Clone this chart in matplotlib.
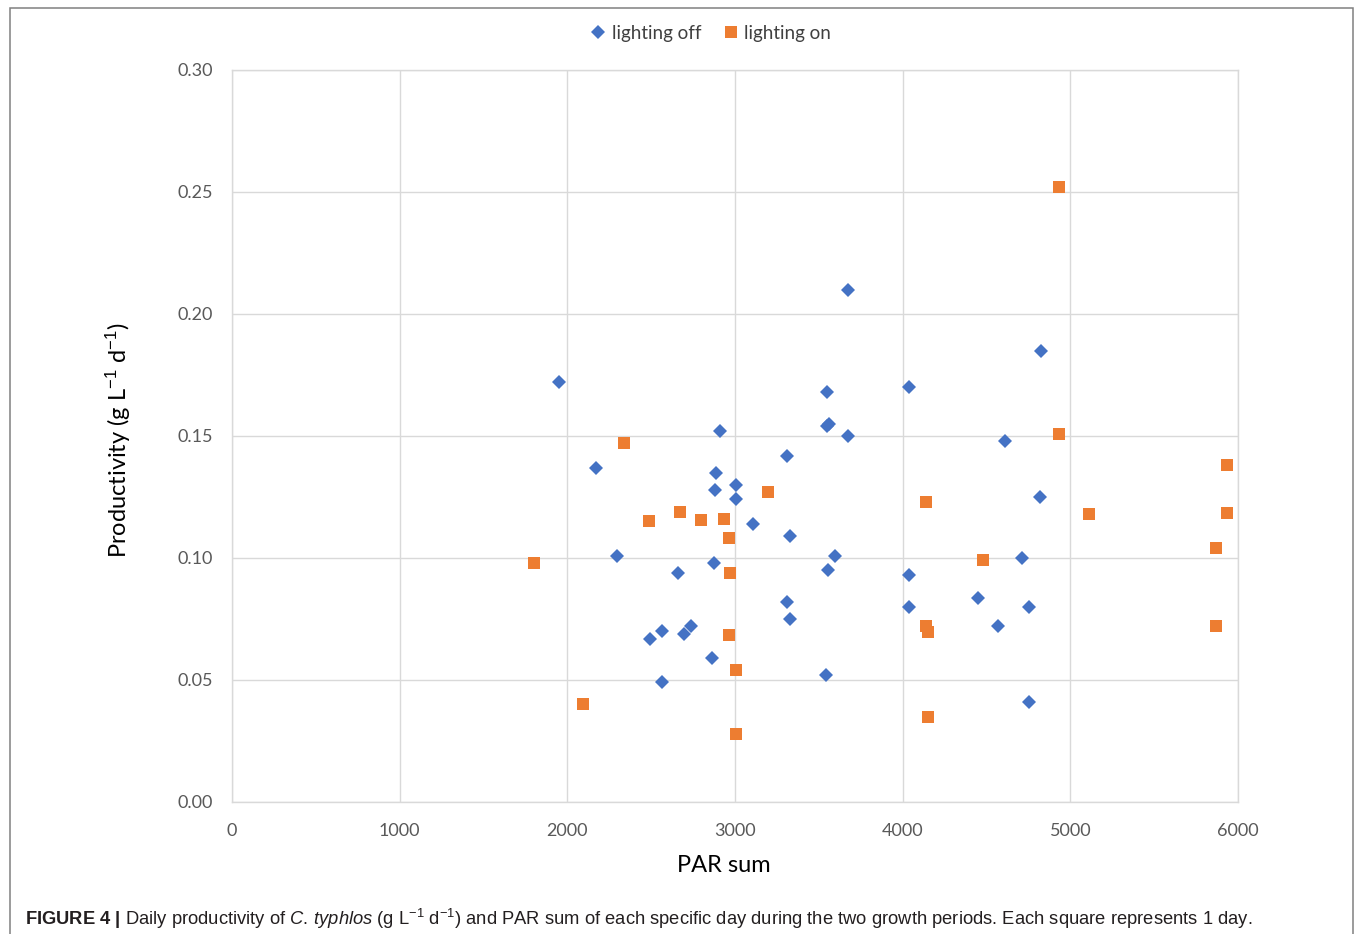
import matplotlib

matplotlib.use("Agg")
import matplotlib.pyplot as plt
from matplotlib.lines import Line2D
from matplotlib.patches import Rectangle

# Daily PAR sum and productivity
par_off = [1948, 2171, 2294, 2492, 2565, 2565, 2663, 2694, 2738, 2861,
           2877, 2879, 2885, 2913, 3004, 3004, 3107, 3313, 3313, 3329,
           3329, 3544, 3550, 3550, 3558, 3556, 3595, 3671, 3674, 4038,
           4040, 4040, 4450, 4569, 4609, 4710, 4752, 4752, 4825, 4821]
prod_off = [0.172, 0.137, 0.101, 0.067, 0.070, 0.049, 0.094, 0.069, 0.072, 0.059,
            0.098, 0.128, 0.135, 0.152, 0.130, 0.124, 0.114, 0.142, 0.082, 0.109,
            0.075, 0.052, 0.168, 0.154, 0.155, 0.095, 0.101, 0.150, 0.210, 0.170,
            0.093, 0.080, 0.0835, 0.072, 0.148, 0.100, 0.080, 0.041, 0.185, 0.125]

par_on = [1800, 2091, 2339, 2490, 2673, 2798, 2933, 2966, 2968, 2966,
          3008, 3004, 3196, 4137, 4137, 4153, 4153, 4482, 4931, 4931,
          5111, 5871, 5871, 5935, 5935]
prod_on = [0.098, 0.040, 0.147, 0.115, 0.119, 0.1155, 0.116, 0.108, 0.094, 0.0685,
           0.054, 0.028, 0.127, 0.123, 0.072, 0.0695, 0.035, 0.099, 0.252, 0.151,
           0.118, 0.104, 0.072, 0.138, 0.1185]

x_ticks = [0, 1000, 2000, 3000, 4000, 5000, 6000]
y_ticks = [0.00, 0.05, 0.10, 0.15, 0.20, 0.25, 0.30]

BLUE = "#4472C4"
ORANGE = "#ED7D31"
GRID = "#D9D9D9"
TICK = "#595959"

plt.rcParams["font.family"] = ["Lato", "DejaVu Sans"]
plt.rcParams["mathtext.fontset"] = "custom"
plt.rcParams["mathtext.rm"] = "Liberation Sans"
plt.rcParams["mathtext.it"] = "Liberation Sans:italic"
plt.rcParams["mathtext.bf"] = "Liberation Sans:bold"

W, H = 1355, 934
fig = plt.figure(figsize=(W / 100, H / 100), dpi=100)
ax = fig.add_axes([232 / W, 1 - 802 / H, (1238 - 232) / W, (802 - 70) / H])

DIAMOND_MS = 6.9
SQUARE_MS = 8.0

ax.plot(par_off, prod_off, linestyle="none", marker="D", markersize=DIAMOND_MS,
        color=BLUE, markeredgewidth=0, zorder=3)
ax.plot(par_on, prod_on, linestyle="none", marker="s", markersize=SQUARE_MS,
        color=ORANGE, markeredgewidth=0, zorder=3)

ax.set_xlim(0, 6000)
ax.set_ylim(0, 0.30)
ax.set_xticks(x_ticks)
ax.set_yticks(y_ticks)
ax.set_xticklabels([str(v) for v in x_ticks])
ax.set_yticklabels([f"{v:.2f}" for v in y_ticks])
ax.tick_params(length=0, labelsize=13, colors=TICK)
ax.tick_params(axis="x", pad=15)
ax.tick_params(axis="y", pad=14)
ax.grid(True, color=GRID, linewidth=1.0)
ax.set_axisbelow(True)
for spine in ax.spines.values():
    spine.set_color(GRID)
    spine.set_linewidth(1.0)

fig.text(724 / W, 1 - 866 / H, "PAR sum", fontsize=17, ha="center", va="center")
fig.text(118 / W, 1 - 440 / H, "Productivity (g L$^{-1}$ d$^{-1}$)", fontsize=17,
         rotation=90, ha="center", va="center")

handles = [
    Line2D([], [], linestyle="none", marker="D", markersize=DIAMOND_MS, color=BLUE,
           markeredgewidth=0, label="lighting off"),
    Line2D([], [], linestyle="none", marker="s", markersize=SQUARE_MS, color=ORANGE,
           markeredgewidth=0, label="lighting on"),
]
fig.legend(handles=handles, loc="center", bbox_to_anchor=(711 / W, 1 - 33 / H),
           ncol=2, frameon=False, fontsize=13.5, handlelength=0.8,
           handletextpad=0.3, columnspacing=1.2, labelcolor="#404040")

fig.add_artist(Rectangle((10 / W, -0.02), (1353 - 10) / W, 0.02 + 1 - 8 / H,
                         transform=fig.transFigure, fill=False,
                         edgecolor="#808080", linewidth=1.1))

caption = (r"$\mathbf{FIGURE\ 4\ |}$ Daily productivity of $\mathit{C.\,typhlos}$ "
           r"(g L$^{-1}$ d$^{-1}$) and PAR sum of each specific day during the two "
           r"growth periods. Each square represents 1 day.")
fig.text(25 / W, 1 - 919 / H, caption, fontsize=13.2, ha="left", va="center",
         family="Liberation Sans", color="#231F20")

fig.savefig("out.png", dpi=100)
